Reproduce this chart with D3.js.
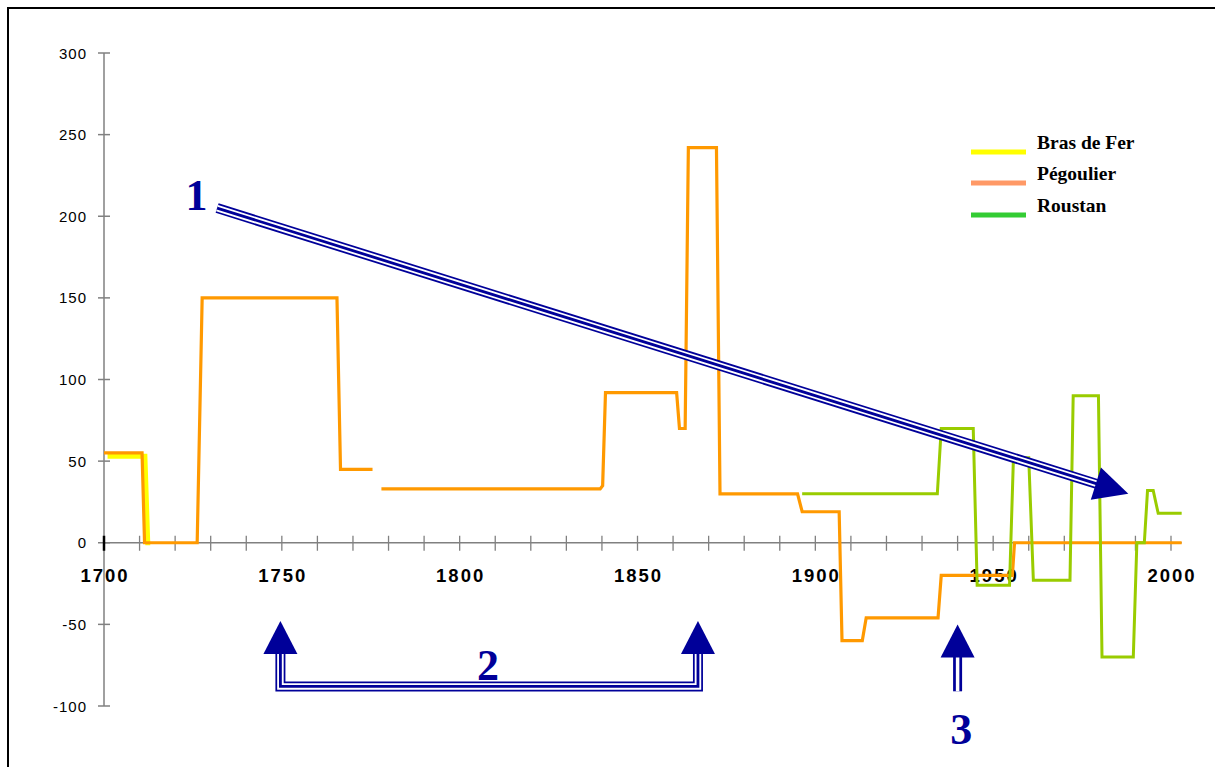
<!DOCTYPE html>
<html>
<head>
<meta charset="utf-8">
<script src="https://cdn.jsdelivr.net/npm/d3@7"></script>
<style>
  html, body { margin: 0; padding: 0; background: #fff; }
  svg { display: block; }
</style>
</head>
<body>
<svg id="chart" width="1215" height="767"></svg>
<script>
// ---------- data ----------
const seriesNames = ["Bras de Fer", "Pégoulier", "Roustan"];
const lineColors = ["#FFFF00", "#FF9900", "#99CC00"];
const legendColors = ["#FFFF00", "#FF9966", "#33CC33"];

const brasDeFer = [
  [1701, 53], [1711.5, 53], [1712.3, 0], [1713, 0]
];
const pegoulier = [
  [1700, 55], [1710.7, 55], [1711.4, 0], [1726.2, 0], [1727.6, 150],
  [1765.5, 150], [1766.5, 45], [1775.5, 45], null,
  [1778, 33], [1839.5, 33], [1840.2, 35], [1841, 92], [1861, 92],
  [1861.8, 70], [1863.4, 70], [1864.3, 242], [1872.2, 242], [1873.2, 30],
  [1895, 30], [1896.3, 19], [1906.7, 19], [1907.5, -60], [1913.2, -60],
  [1914.3, -46], [1934.5, -46], [1935.4, -20], [1955.4, -20], [1956, 0],
  [2003, 0]
];
const roustan = [
  [1896.3, 30], [1934.3, 30], [1935.4, 70], [1944.4, 70], [1945.5, -26],
  [1954.6, -26], [1955.7, 52], [1960, 52], [1961.3, -23], [1971.6, -23],
  [1972.5, 90], [1979.6, 90], [1980.6, -70], [1989.4, -70], [1990.4, 0],
  [1992.5, 0], [1993.4, 32], [1995, 32], [1996.4, 18], [2003, 18]
];

const xTickValues = d3.range(1700, 2001, 10);
const xLabelValues = [1700, 1750, 1800, 1850, 1900, 1950, 2000];
const yTickValues = [-100, -50, 0, 50, 100, 150, 200, 250, 300];

// annotation arrows, in data units (year, value)
const arrow1 = { from: [1731.8, 205], to: [1988, 30], label: "1", labelAt: [1726, 204] };
const arrow2 = { left: 1749.6, right: 1867, tip: -48, bottom: -88, label: "2", labelAt: [1808, -84] };
const arrow3 = { x: 1940, tip: -50, bottom: -91, label: "3", labelAt: [1941, -123] };

// ---------- scales ----------
const x = d3.scaleLinear().domain([1700, 2000]).range([104, 1171]);
const y = d3.scaleLinear().domain([-100, 300]).range([706, 53]);

const svg = d3.select("#chart");

// frame
svg.append("rect").attr("x", 8).attr("y", 8).attr("width", 1220).attr("height", 780)
  .attr("fill", "none").attr("stroke", "#000").attr("stroke-width", 2);

const axisColor = "#808080";

// y axis
svg.append("line").attr("x1", x(1700)).attr("x2", x(1700)).attr("y1", y(300)).attr("y2", y(-100))
  .attr("stroke", axisColor).attr("stroke-width", 1.5);
svg.selectAll(".ytick").data(yTickValues).enter().append("line")
  .attr("x1", x(1700) - 6).attr("x2", x(1700) + 6)
  .attr("y1", d => y(d)).attr("y2", d => y(d))
  .attr("stroke", axisColor).attr("stroke-width", 1.5);
svg.selectAll(".ylab").data(yTickValues).enter().append("text")
  .attr("x", 87).attr("y", d => y(d) + 5.5)
  .attr("text-anchor", "end")
  .attr("font-family", "Liberation Sans, Arial, sans-serif")
  .attr("font-size", 15).attr("letter-spacing", 1)
  .attr("fill", "#000")
  .text(d => d);

// x axis
svg.append("line").attr("x1", x(1700)).attr("x2", x(2003)).attr("y1", y(0)).attr("y2", y(0))
  .attr("stroke", axisColor).attr("stroke-width", 1.5);
svg.selectAll(".xtick").data(xTickValues).enter().append("line")
  .attr("x1", d => x(d)).attr("x2", d => x(d))
  .attr("y1", y(0) - 7).attr("y2", y(0) + 8)
  .attr("stroke", d => d === 1700 ? "#000" : axisColor)
  .attr("stroke-width", d => d === 1700 ? 2.5 : 1.3);
svg.selectAll(".xlab").data(xLabelValues).enter().append("text")
  .attr("x", d => x(d) + 1).attr("y", 582)
  .attr("text-anchor", "middle")
  .attr("font-family", "Liberation Sans, Arial, sans-serif")
  .attr("font-weight", "bold")
  .attr("font-size", 18.5).attr("letter-spacing", 2)
  .attr("fill", "#000")
  .text(d => d);

// series lines
const line = d3.line()
  .defined(d => d !== null)
  .x(d => x(d[0])).y(d => y(d[1]));

const drawOrder = [
  { data: brasDeFer, color: lineColors[0], w: 5 },
  { data: pegoulier, color: lineColors[1], w: 3.2 },
  { data: roustan, color: lineColors[2], w: 3 }
];
drawOrder.forEach(s => {
  svg.append("path").attr("d", line(s.data))
    .attr("fill", "none").attr("stroke", s.color)
    .attr("stroke-width", s.w).attr("stroke-linejoin", "miter");
});

// legend
const legendY = [152, 183, 215];
seriesNames.forEach((name, i) => {
  svg.append("line").attr("x1", 971).attr("x2", 1026)
    .attr("y1", legendY[i]).attr("y2", legendY[i])
    .attr("stroke", legendColors[i]).attr("stroke-width", 5);
  svg.append("text").attr("x", 1037).attr("y", legendY[i] - 3)
    .attr("font-family", "Liberation Serif, Times New Roman, serif")
    .attr("font-weight", "bold").attr("font-size", 19.5)
    .attr("fill", "#000").text(name);
});

// ---------- annotations ----------
const navy = "#000099";
function compoundPath(d, outer, inner, core) {
  svg.append("path").attr("d", d).attr("fill", "none").attr("stroke", navy)
    .attr("stroke-width", outer).attr("stroke-linejoin", "miter");
  svg.append("path").attr("d", d).attr("fill", "none").attr("stroke", "#fff")
    .attr("stroke-width", inner).attr("stroke-linejoin", "miter");
  if (core > 0) {
    svg.append("path").attr("d", d).attr("fill", "none").attr("stroke", navy)
      .attr("stroke-width", core).attr("stroke-linejoin", "miter");
  }
}
function arrowHead(tipX, tipY, ux, uy, len, half) {
  const bx = tipX - ux * len, by = tipY - uy * len;
  const px = -uy, py = ux;
  svg.append("path")
    .attr("d", `M${tipX},${tipY}L${bx + px * half},${by + py * half}L${bx - px * half},${by - py * half}Z`)
    .attr("fill", navy);
  return [bx, by];
}
function label(txt, pos) {
  svg.append("text").attr("x", x(pos[0])).attr("y", y(pos[1]))
    .attr("text-anchor", "middle")
    .attr("font-family", "Liberation Serif, Times New Roman, serif")
    .attr("font-weight", "bold").attr("font-size", 44)
    .attr("fill", navy).text(txt);
}

// arrow 1
{
  const x0 = x(arrow1.from[0]), y0 = y(arrow1.from[1]);
  const x1 = x(arrow1.to[0]), y1 = y(arrow1.to[1]);
  const L = Math.hypot(x1 - x0, y1 - y0);
  const ux = (x1 - x0) / L, uy = (y1 - y0) / L;
  const base = [x1 - ux * 34, y1 - uy * 34];
  compoundPath(`M${x0},${y0}L${base[0] + ux * 2},${base[1] + uy * 2}`, 10, 6.5, 2.8);
  arrowHead(x1, y1, ux, uy, 34, 17);
  label(arrow1.label, arrow1.labelAt);
}

// arrow 2
{
  const xl = x(arrow2.left), xr = x(arrow2.right);
  const yt = y(arrow2.tip), yb = y(arrow2.bottom);
  const baseY = yt + 33;
  compoundPath(`M${xl},${baseY - 2}L${xl},${yb}L${xr},${yb}L${xr},${baseY - 2}`, 10, 6.5, 2.8);
  arrowHead(xl, yt, 0, -1, 33, 17);
  arrowHead(xr, yt, 0, -1, 33, 17);
  label(arrow2.label, arrow2.labelAt);
}

// arrow 3
{
  const xc = x(arrow3.x), yt = y(arrow3.tip), yb = y(arrow3.bottom);
  const baseY = yt + 33;
  compoundPath(`M${xc},${baseY - 2}L${xc},${yb}`, 9, 3.5, 0);
  arrowHead(xc, yt, 0, -1, 33, 17);
  label(arrow3.label, arrow3.labelAt);
}
</script>
</body>
</html>
